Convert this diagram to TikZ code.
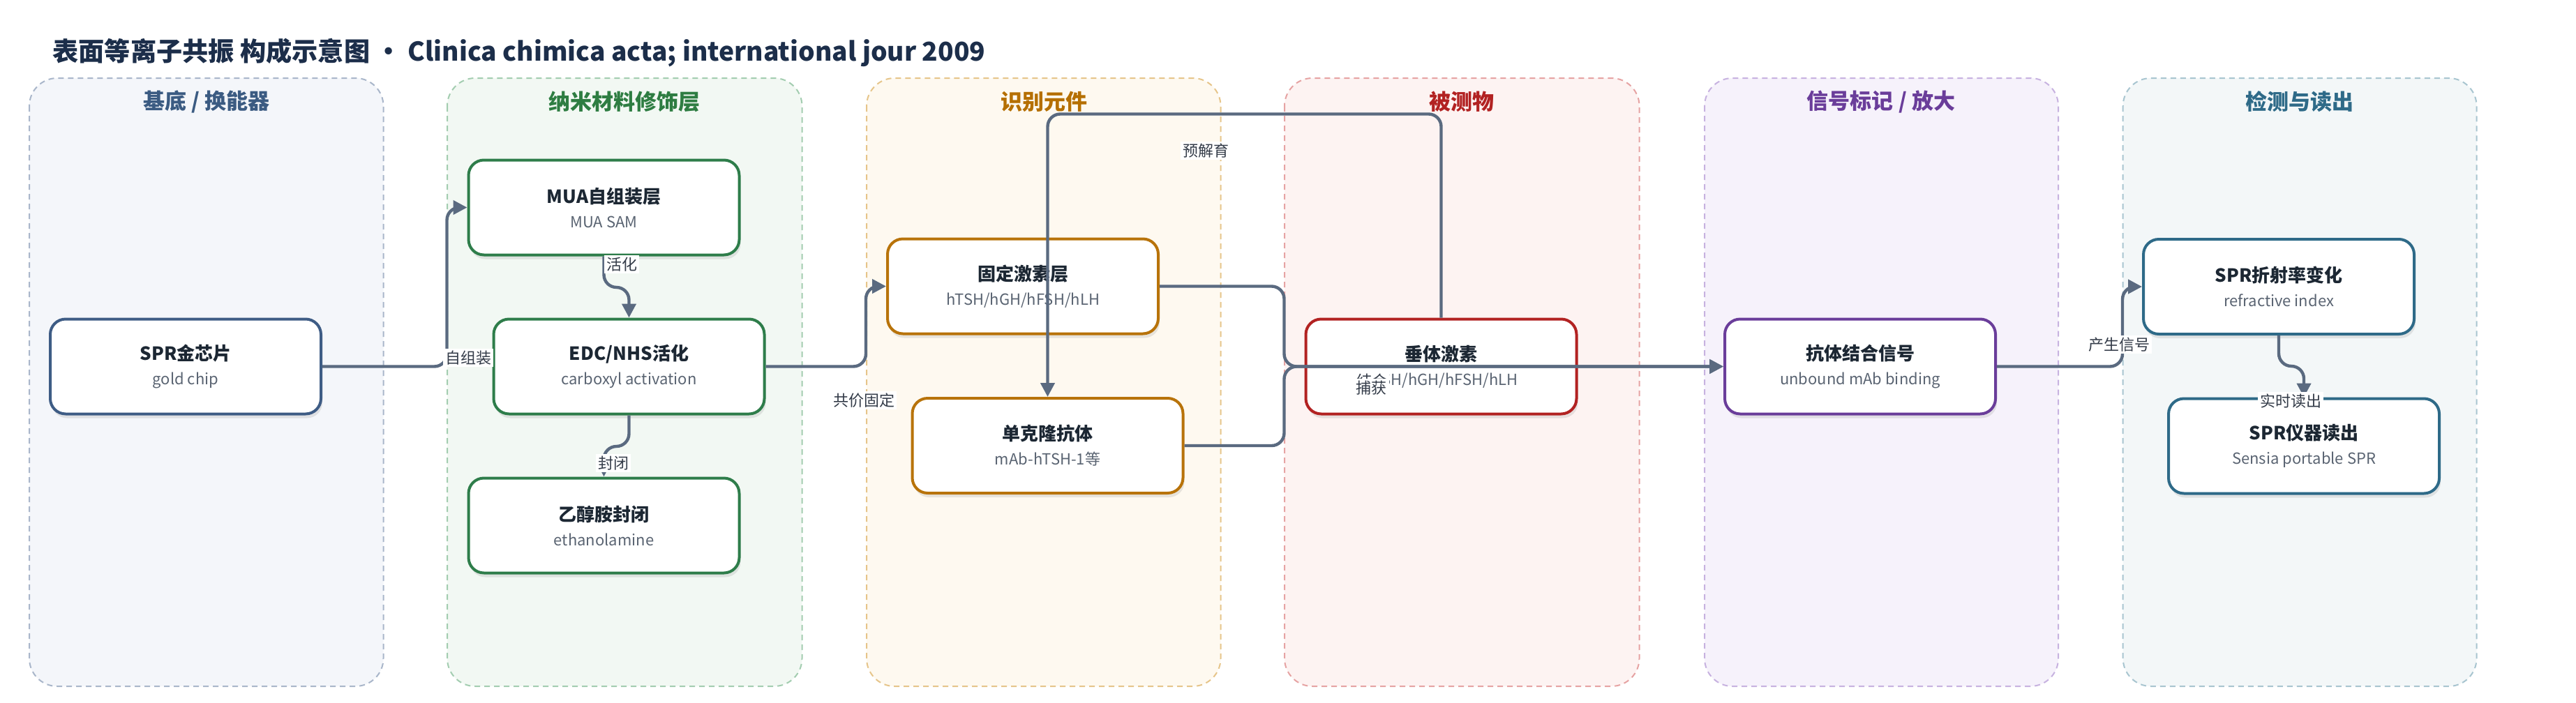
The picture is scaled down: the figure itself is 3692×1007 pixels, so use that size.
\documentclass[tikz,border=0pt]{standalone}
\usepackage{fontspec}
\setmainfont{Noto Sans CJK SC}
\usetikzlibrary{arrows.meta,shadows,calc}
\definecolor{titlec}{HTML}{1C2E4A}
\definecolor{boxtxt}{HTML}{1C2733}
\definecolor{subtxt}{HTML}{5A6472}
\definecolor{lbltxt}{HTML}{333B48}
\definecolor{connc}{HTML}{5A6A80}
\definecolor{pfA}{HTML}{F4F6FA}\definecolor{pdA}{HTML}{A9B6CA}\definecolor{phA}{HTML}{3B5B82}\definecolor{bA}{HTML}{3E5C85}
\definecolor{pfB}{HTML}{F2F8F3}\definecolor{pdB}{HTML}{A3CDB0}\definecolor{phB}{HTML}{2E7D42}\definecolor{bB}{HTML}{2E7D4A}
\definecolor{pfC}{HTML}{FEF9F0}\definecolor{pdC}{HTML}{E6C58A}\definecolor{phC}{HTML}{B56F00}\definecolor{bC}{HTML}{B8730A}
\definecolor{pfD}{HTML}{FDF3F2}\definecolor{pdD}{HTML}{E6A3A3}\definecolor{phD}{HTML}{B22222}\definecolor{bD}{HTML}{B22222}
\definecolor{pfE}{HTML}{F6F2FB}\definecolor{pdE}{HTML}{C7B2E0}\definecolor{phE}{HTML}{6A3D9A}\definecolor{bE}{HTML}{6A3D9A}
\definecolor{pfF}{HTML}{F3F7F8}\definecolor{pdF}{HTML}{A8C5D0}\definecolor{phF}{HTML}{2E6A88}\definecolor{bF}{HTML}{2E6A88}
\newcommand\bxt[1]{{\bfseries\fontsize{13}{17.5}\selectfont\color{boxtxt}#1}}
\newcommand\bxs[1]{{\color{subtxt}#1}}
\begin{document}
\begin{tikzpicture}[x=0.5pt,y=-0.5pt,
  panel/.style={line width=1pt, dash pattern=on 4pt off 3pt, rounded corners=20pt},
  phead/.style={font=\bfseries\fontsize{15.5}{18}\selectfont},
  box/.style={rounded corners=11pt, line width=2pt, fill=white, minimum width=194pt, minimum height=68pt,
    align=center, inner sep=2pt, font=\fontsize{11}{17.5}\selectfont,
    drop shadow={opacity=0.18, shadow xshift=1pt, shadow yshift=-3pt}},
  conn/.style={draw=connc, line width=2.2pt, rounded corners=9pt, -{Triangle[length=10pt,width=10pt]}},
  lbl/.style={fill=white, inner sep=1.5pt, text=lbltxt, font=\fontsize{11}{13}\selectfont}]
\useasboundingbox[fill=white] (0,0) rectangle (3692,1007);
% title
\node[anchor=west, inner sep=0pt, text=titlec, font=\bfseries\fontsize{18.6}{22}\selectfont] (title) at (75,75)
  {表面等离子共振 构成示意图 · Clinica chimica acta; international jour 2009};
% panels
\draw[panel, draw=pdA, fill=pfA] (42,112) rectangle (549.5,984);
\draw[panel, draw=pdB, fill=pfB] (641,112) rectangle (1149.5,984);
\draw[panel, draw=pdC, fill=pfC] (1242,112) rectangle (1749.5,984);
\draw[panel, draw=pdD, fill=pfD] (1841,112) rectangle (2349.5,984);
\draw[panel, draw=pdE, fill=pfE] (2443,112) rectangle (2950,984);
\draw[panel, draw=pdF, fill=pfF] (3042.7,112) rectangle (3549.5,984);
\node[phead, text=phA] (hA) at (296,146) {基底 / 换能器};
\node[phead, text=phB] (hB) at (895,146) {纳米材料修饰层};
\node[phead, text=phC] (hC) at (1496,146) {识别元件};
\node[phead, text=phD] (hD) at (2095,146) {被测物};
\node[phead, text=phE] (hE) at (2696,146) {信号标记 / 放大};
\node[phead, text=phF] (hF) at (3296,146) {检测与读出};
% boxes
\node[box, draw=bA] (spr) at (266,525.5) {\bxt{SPR金芯片}\\\bxs{gold chip}};
\node[box, draw=bB] (mua) at (865.5,297.5) {\bxt{MUA自组装层}\\\bxs{MUA SAM}};
\node[box, draw=bB] (edc) at (901.5,525.5) {\bxt{EDC/NHS活化}\\\bxs{carboxyl activation}};
\node[box, draw=bB] (eth) at (865.5,753.5) {\bxt{乙醇胺封闭}\\\bxs{ethanolamine}};
\node[box, draw=bC] (fix) at (1466,410.5) {\bxt{固定激素层}\\\bxs{hTSH/hGH/hFSH/hLH}};
\node[box, draw=bC] (mab) at (1501.5,639) {\bxt{单克隆抗体}\\\bxs{mAb-hTSH-1等}};
\node[box, draw=bD] (hor) at (2065.5,525.5) {\bxt{垂体激素}\\\bxs{hTSH/hGH/hFSH/hLH}};
\node[box, draw=bE] (sig) at (2666,525.5) {\bxt{抗体结合信号}\\\bxs{unbound mAb binding}};
\node[box, draw=bF] (ri) at (3266,411) {\bxt{SPR折射率变化}\\\bxs{refractive index}};
\node[box, draw=bF] (rd) at (3302,639.5) {\bxt{SPR仪器读出}\\\bxs{Sensia portable SPR}};
% connectors
\draw[conn] (spr.east) -| ($(mua.west)+(-29,0)$) -- (mua.west);
\draw[conn] (mua.south) -- ($(mua.south)+(0,44.5)$) -| (edc.north);
\draw[conn] (edc.south) -- ($(edc.south)+(0,44.5)$) -| (eth.north);
\draw[conn] (edc.east) -| ($(fix.west)+(-29,0)$) -- (fix.west);
\draw[conn] (fix.east) -| ($(hor.west)+(-29,0)$) -- (sig.west);
\draw[conn] (mab.east) -| ($(hor.west)+(-29,0)$) -- (sig.west);
\draw[conn] (hor.north) -- ($(hor.north)+(0,-292)$) -| (mab.north);
\draw[conn] (sig.east) -| ($(ri.west)+(-28,0)$) -- (ri.west);
\draw[conn] (ri.south) -- ($(ri.south)+(0,44)$) -| (rd.north);
% labels
\node[lbl] (l1) at (671,513) {自组装};
\node[lbl] (l2) at (891,379) {活化};
\node[lbl] (l3) at (879,664) {封闭};
\node[lbl] (l4) at (1238,574) {共价固定};
\node[lbl] (l5) at (1966,546) {结合};
\node[lbl] (l6) at (1965,556) {捕获};
\node[lbl] (l7) at (1728,216) {预解育};
\node[lbl] (l8) at (3037,494) {产生信号};
\node[lbl] (l9) at (3283,575) {实时读出};
\end{tikzpicture}
\end{document}
